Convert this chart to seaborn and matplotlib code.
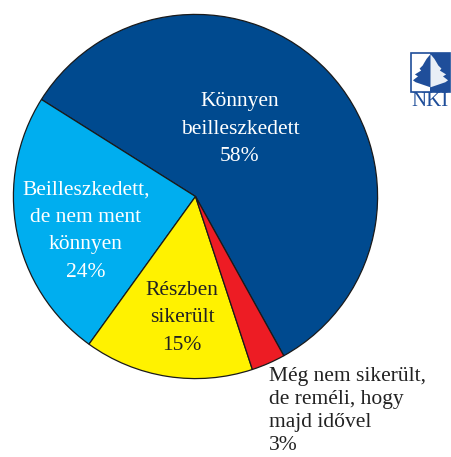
import matplotlib
matplotlib.use("Agg")
import matplotlib.pyplot as plt
import seaborn as sns
from matplotlib.patches import Rectangle, Polygon

# data
categories = ["Könnyen\nbeilleszkedett", "Beilleszkedett,\nde nem ment\nkönnyen",
              "Részben\nsikerült", "Még nem sikerült,\nde reméli, hogy\nmajd idővel"]
shares = [58, 24, 15, 3]
colors = ["#004A8F", "#00AEEF", "#FFF200", "#ED1C24"]

sns.set_theme(style="white")
plt.rcParams["font.family"] = ["Liberation Serif", "DejaVu Serif"]

W, H = 451, 457
fig = plt.figure(figsize=(W / 100, H / 100), dpi=100)
fig.patch.set_facecolor("white")

# pie axes: circle centre ~(195.5, 196.5) px, radius ~183 px
cx, cy, r = 195.5, 196.5, 183
ax = fig.add_axes([(cx - r) / W, 1 - (cy + r) / H, 2 * r / W, 2 * r / H])
ax.pie(shares, colors=colors, startangle=-61, counterclock=True,
       wedgeprops=dict(edgecolor="#1a1a1a", linewidth=0.9))
ax.set_xlim(-1.005, 1.005)
ax.set_ylim(-1.005, 1.005)
ax.set_aspect("equal")
ax.axis("off")


def px(x, y):
    return x / W, 1 - y / H


# labels inside slices
label_pos = [(240, 129), (86, 231), (182, 318)]
label_col = ["white", "white", "#222222"]
for i in range(3):
    fig.text(*px(*label_pos[i]), f"{categories[i]}\n{shares[i]}%",
             ha="center", va="center", color=label_col[i],
             fontsize=15.5, linespacing=1.6)

# outside label for the small slice (kept just inside the bottom edge)
fig.text(*px(269, 367), f"{categories[3]}\n{shares[3]}%", ha="left", va="top",
         color="#222222", fontsize=15.5, linespacing=1.28)

# NKI logo
logo_blue = "#1f4e9a"
lx, ly, ls = 411, 53, 39
x0, y0 = px(lx, ly + ls)
box_w, box_h = ls / W, ls / H
fig.patches.append(Rectangle((x0, y0), box_w / 2, box_h, transform=fig.transFigure,
                             facecolor="white", edgecolor="none"))
fig.patches.append(Rectangle((x0 + box_w / 2, y0), box_w / 2, box_h, transform=fig.transFigure,
                             facecolor=logo_blue, edgecolor="none"))
tree = [(0.5, 0.97), (0.4, 0.85), (0.34, 0.75), (0.3, 0.68), (0.22, 0.6), (0.26, 0.55),
        (0.1, 0.45), (0.18, 0.4), (0.05, 0.3), (0.12, 0.25), (0.5, 0.12)]
left_half = [(x0 + a * box_w, y0 + b * box_h) for a, b in tree]
right_half = [(x0 + (1 - a) * box_w, y0 + b * box_h) for a, b in tree]
fig.patches.append(Polygon(left_half, closed=True, transform=fig.transFigure,
                           facecolor=logo_blue, edgecolor="none"))
fig.patches.append(Polygon(right_half, closed=True, transform=fig.transFigure,
                           facecolor="#e8eef6", edgecolor="none"))
fig.patches.append(Rectangle((x0, y0), box_w, box_h, transform=fig.transFigure,
                             facecolor="none", edgecolor=logo_blue, linewidth=1.2))
fig.text(*px(lx + ls / 2, 101), "NKI", ha="center", va="center", color=logo_blue,
         fontsize=15)

fig.savefig("out.png", dpi=100, facecolor="white")
